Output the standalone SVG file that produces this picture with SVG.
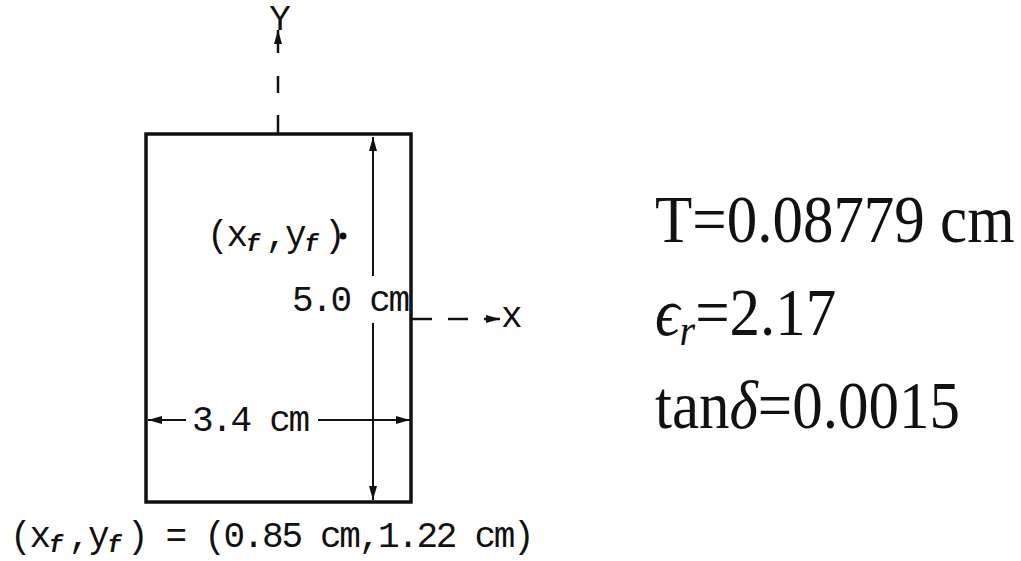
<svg xmlns="http://www.w3.org/2000/svg" width="1021" height="561" viewBox="0 0 1021 561">
<style>
.mono{font-family:"Liberation Mono","Courier New",monospace;font-size:36px;letter-spacing:-2.3px;fill:#111}
.sub{font-family:"Liberation Mono","Courier New",monospace;font-size:23px;font-style:italic;font-weight:bold;fill:#111}
.serif{font-family:"Liberation Serif","DejaVu Serif","Times New Roman",serif;font-size:61px;fill:#111}
.ln{stroke:#111;stroke-width:2;fill:none}
.ax{stroke:#111;stroke-width:2.5;fill:none}
</style>
<defs>
<marker id="ah" viewBox="0 0 14 8" refX="14" refY="4" markerWidth="14" markerHeight="8" markerUnits="userSpaceOnUse" orient="auto-start-reverse">
<path d="M0,0 L14,4 L0,8 z" fill="#111"/>
</marker>
</defs>
<rect width="1021" height="561" fill="#fff"/>
<g id="patch">
<rect x="146" y="134" width="265" height="368" fill="none" stroke="#111" stroke-width="3.5"/>
</g>
<g id="connectors">
<g id="y-axis">
<line class="ax" x1="278" y1="134" x2="278" y2="115"/>
<line class="ax" x1="278" y1="93" x2="278" y2="76"/>
<line class="ax" x1="278" y1="53" x2="278" y2="30" marker-end="url(#ah)"/>
</g>
<g id="x-axis">
<line class="ax" x1="411" y1="319" x2="432" y2="319"/>
<line class="ax" x1="448" y1="319" x2="468" y2="319"/>
<line class="ax" x1="484" y1="319" x2="500" y2="319" marker-end="url(#ah)"/>
</g>
<g id="dim-height">
<line class="ln" x1="373" y1="137" x2="373" y2="276" marker-start="url(#ah)"/>
<line class="ln" x1="373" y1="323" x2="373" y2="500" marker-end="url(#ah)"/>
</g>
<g id="dim-width">
<line class="ln" x1="148" y1="420" x2="186" y2="420" marker-start="url(#ah)"/>
<line class="ln" x1="318" y1="420" x2="410" y2="420" marker-end="url(#ah)"/>
</g>
</g>
<g id="axis-labels">
<text class="mono" x="279" y="30" text-anchor="middle" font-size="30" letter-spacing="0">Y</text>
<text class="mono" x="501" y="327" letter-spacing="0">x</text>
</g>
<g id="dim-labels">
<text class="mono" x="292" y="311">5.0 cm</text>
<text class="mono" x="192" y="431">3.4 cm</text>
</g>
<g id="feed-point">
<text class="mono" y="246"><tspan x="207">(</tspan><tspan x="226.5">x</tspan><tspan class="sub" x="246" dy="5">f</tspan><tspan x="265.5" dy="-5">,</tspan><tspan x="285">y</tspan><tspan class="sub" x="304.5" dy="5">f</tspan><tspan x="324" dy="-5">)</tspan></text>
<circle cx="343" cy="236" r="3.5" fill="#111"/>
</g>
<g id="feed-caption">
<text class="mono" y="547"><tspan x="10">(</tspan><tspan x="29.5">x</tspan><tspan class="sub" x="49" dy="5">f</tspan><tspan x="68.5" dy="-5">,</tspan><tspan x="88">y</tspan><tspan class="sub" x="107.5" dy="5">f</tspan><tspan x="127" dy="-5">) = (0.85 cm,1.22 cm)</tspan></text>
</g>
<g id="parameters">
<text class="serif" transform="translate(655,242) scale(1,1.1)">T=0.08779 cm</text>
<text class="serif" transform="translate(655,335) scale(1,1.1)"><tspan font-style="italic">ϵ</tspan><tspan font-style="italic" font-size="40" dy="9">r</tspan><tspan dy="-9">=2.17</tspan></text>
<text class="serif" transform="translate(655,428) scale(1,1.1)">tan<tspan font-style="italic">δ</tspan>=0.0015</text>
</g>
</svg>
